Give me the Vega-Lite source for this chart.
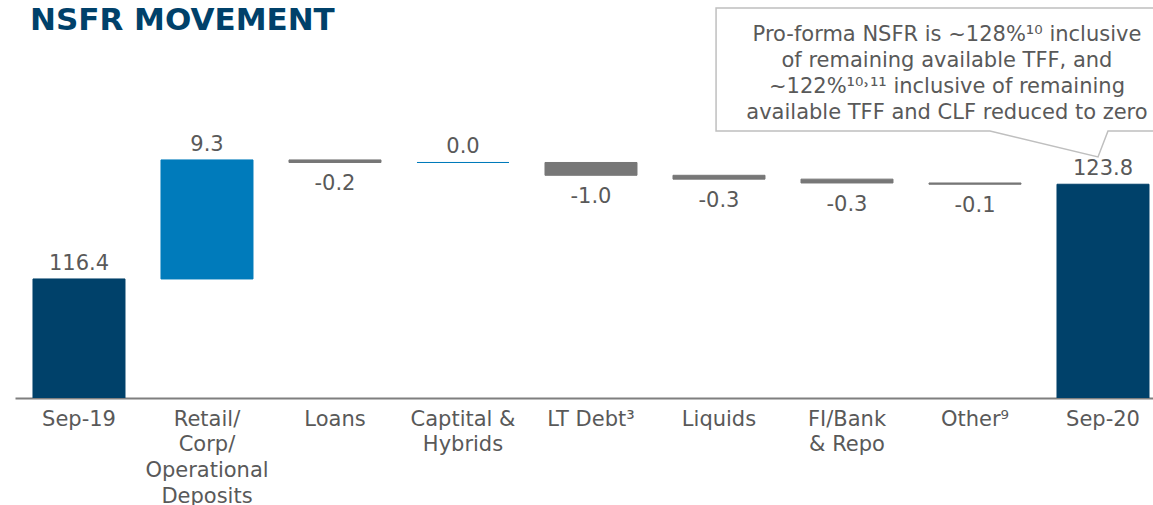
{
  "$schema": "https://vega.github.io/schema/vega-lite/v6.json",
  "width": 1138,
  "height": 358,
  "autosize": {"type": "none"},
  "padding": {"left": 15, "top": 40, "right": 0, "bottom": 107},
  "background": "white",
  "config": {
    "view": {"stroke": null},
    "font": "DejaVu Sans"
  },
  "title": {
    "text": "NSFR MOVEMENT",
    "anchor": "start",
    "fontSize": 31,
    "fontWeight": "bold",
    "color": "#00416a",
    "font": "DejaVu Sans",
    "dx": 15,
    "dy": 36,
    "offset": 4
  },
  "datasets": {
    "bars": [
      {"cat": "Sep-19", "start": 0, "end": 116.4, "label": "116.4", "kind": "total"},
      {"cat": "Retail/|Corp/|Operational|Deposits", "start": 116.4, "end": 125.7, "label": "9.3", "kind": "up"},
      {"cat": "Loans", "start": 125.7, "end": 125.5, "label": "-0.2", "kind": "down"},
      {"cat": "Captital &|Hybrids", "start": 125.5, "end": 125.5, "label": "0.0", "kind": "up"},
      {"cat": "LT Debt³", "start": 125.5, "end": 124.5, "label": "-1.0", "kind": "down"},
      {"cat": "Liquids", "start": 124.5, "end": 124.2, "label": "-0.3", "kind": "down"},
      {"cat": "FI/Bank|& Repo", "start": 124.2, "end": 123.9, "label": "-0.3", "kind": "down"},
      {"cat": "Other⁹", "start": 123.9, "end": 123.8, "label": "-0.1", "kind": "down"},
      {"cat": "Sep-20", "start": 0, "end": 123.8, "label": "123.8", "kind": "total"}
    ],
    "callout": [
      {"o": 1, "u": 8.45, "v": 137.57},
      {"o": 2, "u": 4.977, "v": 137.57},
      {"o": 3, "u": 4.977, "v": 127.96},
      {"o": 4, "u": 7.117, "v": 127.96},
      {"o": 5, "u": 7.961, "v": 125.93},
      {"o": 6, "u": 8.039, "v": 127.96},
      {"o": 7, "u": 8.45, "v": 127.96}
    ],
    "note": [
      {"u": 6.781, "v": 136.33, "text": ["Pro-forma NSFR is ~128%¹⁰ inclusive", "of remaining available TFF, and", "~122%¹⁰˒¹¹ inclusive of remaining", "available TFF and CLF reduced to zero"]}
    ]
  },
  "resolve": {"scale": {"x": "independent"}},
  "layer": [
    {
      "data": {"name": "bars"},
      "layer": [
        {
          "mark": {"type": "bar", "clip": true, "strokeWidth": 1},
          "encoding": {
            "x": {
              "field": "cat", "type": "nominal", "sort": null,
              "scale": {"paddingInner": 0.28125, "paddingOuter": 0.0859, "align": 0.818},
              "axis": {
                "title": null,
                "labelExpr": "split(datum.value, '|')",
                "labelAngle": 0,
                "labelFontSize": 21,
                "labelColor": "#595959",
                "labelFont": "DejaVu Sans",
                "labelLineHeight": 25.7,
                "labelPadding": 10,
                "labelLimit": 400,
                "labelOverlap": false,
                "labelBound": false,
                "ticks": false,
                "domainColor": "#7f7f7f",
                "domainWidth": 2
              }
            },
            "y": {"field": "start", "type": "quantitative", "scale": {"domain": [107.1, 135.07], "nice": false, "zero": false}, "axis": null},
            "y2": {"field": "end"},
            "color": {"field": "kind", "type": "nominal", "scale": {"domain": ["total", "up", "down"], "range": ["#00416a", "#007bbb", "#777777"]}, "legend": null},
            "stroke": {"field": "kind", "type": "nominal", "scale": {"domain": ["total", "up", "down"], "range": ["#00416a", "#007bbb", "#777777"]}, "legend": null}
          }
        },
        {
          "transform": [{"filter": "datum.kind != 'down'"}],
          "mark": {"type": "text", "baseline": "bottom", "dy": -5, "fontSize": 21, "color": "#595959", "font": "DejaVu Sans"},
          "encoding": {
            "x": {"field": "cat", "type": "nominal", "sort": null},
            "y": {"field": "end", "type": "quantitative"},
            "text": {"field": "label"}
          }
        },
        {
          "transform": [{"filter": "datum.kind == 'down'"}],
          "mark": {"type": "text", "baseline": "top", "dy": 11, "fontSize": 21, "color": "#595959", "font": "DejaVu Sans"},
          "encoding": {
            "x": {"field": "cat", "type": "nominal", "sort": null},
            "y": {"field": "end", "type": "quantitative"},
            "text": {"field": "label"}
          }
        }
      ]
    },
    {
      "layer": [
        {
          "data": {"name": "callout"},
          "mark": {"type": "line", "color": "#bfbfbf", "strokeWidth": 1.5, "clip": false},
          "encoding": {
            "x": {"field": "u", "type": "quantitative", "scale": {"domain": [-0.5, 8.390625], "nice": false, "zero": false}, "axis": null},
            "y": {"field": "v", "type": "quantitative"},
            "order": {"field": "o"}
          }
        },
        {
          "data": {"name": "note"},
          "mark": {"type": "text", "align": "center", "baseline": "top", "fontSize": 21, "lineHeight": 26, "color": "#595959", "font": "DejaVu Sans"},
          "encoding": {
            "x": {"field": "u", "type": "quantitative", "axis": null},
            "y": {"field": "v", "type": "quantitative"},
            "text": {"field": "text"}
          }
        }
      ]
    }
  ]
}
